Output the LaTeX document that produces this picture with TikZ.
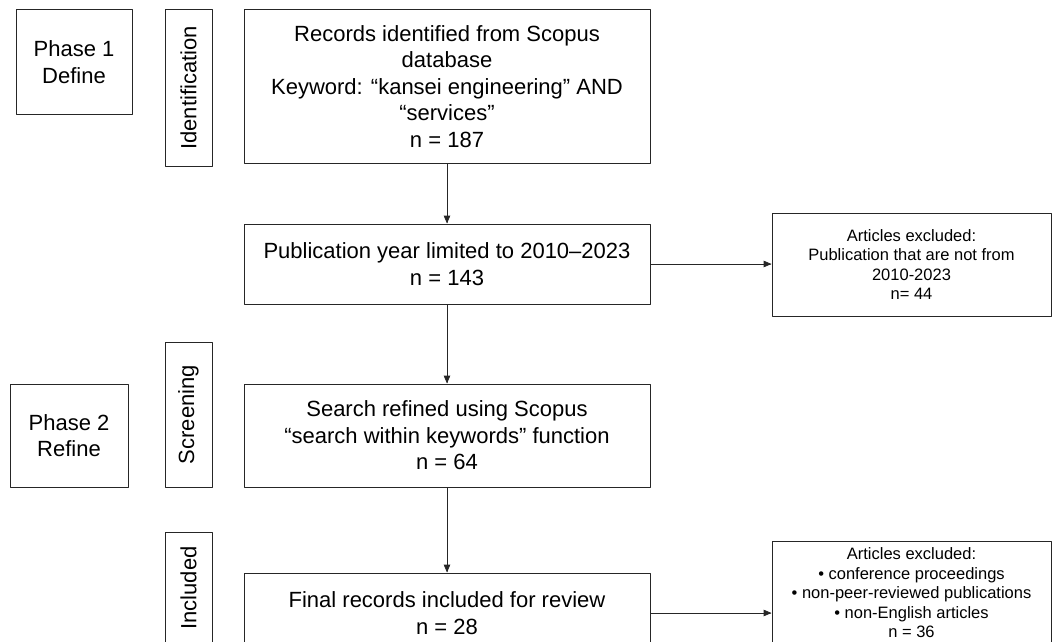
\documentclass[tikz,border=0pt]{standalone}
\usepackage{fontspec}
\setmainfont{Liberation Sans}
\usepackage{tikz}
\usetikzlibrary{arrows}

\tikzset{
  box/.style={draw=black!85, line width=1pt, inner sep=0pt, align=center, font=\fontsize{22}{26.5}\selectfont},
  smallbox/.style={box, font=\fontsize{16.5}{19.5}\selectfont},
  sidebox/.style={box, rotate=90, minimum height=47},
}

\begin{document}
\begin{tikzpicture}[line cap=round,line join=round,>=triangle 45,x=1pt,y=-1pt]
\useasboundingbox (0,0) rectangle (1052,642);
\clip (0,0) rectangle (1052,642);
% phases
\node [box, minimum width=116, minimum height=104] (phaseone) at (74,62) {Phase 1\\Define};
\node [box, minimum width=118, minimum height=103] (phasetwo) at (69,435.5) {Phase 2\\Refine};
% stages
\node [sidebox, minimum width=156] (ident) at (188.5,88) {Identification};
\node [sidebox, minimum width=145] (screen) at (188.5,414.5) {Screening};
\node [sidebox, minimum width=112] (incl) at (188.5,588) {Included};
% main flow
\node [box, minimum width=406, minimum height=153] (records) at (447,86.5)
  {Records identified from Scopus\\database\\Keyword: “kansei engineering” AND\\“services”\\n = 187};
\node [box, minimum width=406, minimum height=80] (pub) at (447,264)
  {Publication year limited to 2010–2023\\n = 143};
\node [box, minimum width=406, minimum height=103] (search) at (447,435.5)
  {Search refined using Scopus\\“search within keywords” function\\n = 64};
\node [box, minimum width=406, minimum height=80] (final) at (447,613)
  {Final records included for review\\n = 28};
% exclusions
\node [smallbox, minimum width=279, minimum height=103] (excla) at (911.5,264.5)
  {Articles excluded:\\Publication that are not from\\2010-2023\\n= 44};
\node [smallbox, minimum width=279, minimum height=104] (exclb) at (911.5,593)
  {Articles excluded:\\• conference proceedings\\• non-peer-reviewed publications\\• non-English articles\\n = 36};
%
\draw [->, line width=0.8pt, black!85] (records) -- (pub);
\draw [->, line width=0.8pt, black!85] (pub) -- (search);
\draw [->, line width=0.8pt, black!85] (search) -- (final);
\draw [->, line width=0.8pt, black!85] (pub.east) -- (pub.east -| excla.west);
\draw [->, line width=0.8pt, black!85] (final.east) -- (final.east -| exclb.west);
\end{tikzpicture}
\end{document}
